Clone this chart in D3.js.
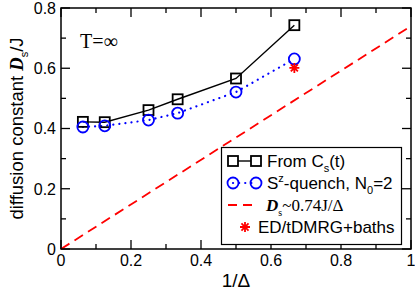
<!DOCTYPE html>
<html>
<head>
<meta charset="utf-8">
<script src="https://cdn.jsdelivr.net/npm/d3@7"></script>
<style>
  body { margin: 0; background: #fff; }
  text { font-family: "Liberation Sans", Arial, sans-serif; }
  .serif { font-family: "Liberation Serif", "Times New Roman", serif; }
</style>
</head>
<body>
<div id="chart"></div>
<script>
const width = 415;
const height = 292;

const margin = { top: 8, left: 61, bottom: 43, right: 4 };

// data
const invDelta = [0.0625, 0.125, 0.25, 0.3333, 0.5, 0.6667];
const fromCs = [0.422, 0.421, 0.461, 0.497, 0.566, 0.743];
const szQuench = [0.405, 0.409, 0.428, 0.451, 0.521, 0.631];
const edPoint = [{ x: 0.6667, y: 0.601 }];
const slope = 0.74;
const xTicks = [0, 0.2, 0.4, 0.6, 0.8, 1];
const yTicks = [0, 0.2, 0.4, 0.6, 0.8];

const xScale = d3.scaleLinear().domain([0, 1]).range([margin.left, width - margin.right]);
const yScale = d3.scaleLinear().domain([0, 0.8]).range([height - margin.bottom, margin.top]);

const svg = d3.select("#chart").append("svg").attr("width", width).attr("height", height);

const x0 = xScale(0), x1 = xScale(1), y0 = yScale(0), y1 = yScale(0.8);

// ticks inward on all four sides
const majorLen = 9, minorLen = 5;
const xMinor = d3.range(0.1, 1, 0.2);
const yMinor = d3.range(0.1, 0.8, 0.2);
const tickG = svg.append("g").attr("stroke", "#000").attr("stroke-width", 1.3);
xTicks.concat(xMinor).forEach(t => {
    const len = xMinor.includes(t) ? minorLen : majorLen;
    tickG.append("line").attr("x1", xScale(t)).attr("x2", xScale(t)).attr("y1", y0).attr("y2", y0 - len);
    tickG.append("line").attr("x1", xScale(t)).attr("x2", xScale(t)).attr("y1", y1).attr("y2", y1 + len);
});
yTicks.concat(yMinor).forEach(t => {
    const len = yMinor.includes(t) ? minorLen : majorLen;
    tickG.append("line").attr("y1", yScale(t)).attr("y2", yScale(t)).attr("x1", x0).attr("x2", x0 + len);
    tickG.append("line").attr("y1", yScale(t)).attr("y2", yScale(t)).attr("x1", x1).attr("x2", x1 - len);
});

svg.selectAll("text.xTick")
    .data(xTicks)
    .join("text")
    .attr("class", "xTick")
    .attr("x", d => xScale(d))
    .attr("y", y0 + 17)
    .attr("text-anchor", "middle")
    .style("font-size", "16px")
    .text(d => d === 0 || d === 1 ? d : d.toFixed(1));

svg.selectAll("text.yTick")
    .data(yTicks)
    .join("text")
    .attr("class", "yTick")
    .attr("x", x0 - 5)
    .attr("y", d => yScale(d))
    .attr("dy", "0.36em")
    .attr("text-anchor", "end")
    .style("font-size", "16px")
    .text(d => d === 0 ? "0" : d.toFixed(1));

// red dashed line D ~ 0.74 J/Delta
svg.append("line")
    .attr("x1", xScale(0)).attr("y1", yScale(0))
    .attr("x2", xScale(1)).attr("y2", yScale(slope))
    .attr("stroke", "#ff0000")
    .attr("stroke-width", 1.8)
    .attr("stroke-dasharray", "10,6");

const line = d3.line().x(d => xScale(d[0])).y(d => yScale(d[1]));

const sqData = invDelta.map((d, i) => [d, fromCs[i]]);
const ciData = invDelta.map((d, i) => [d, szQuench[i]]);

svg.append("path")
    .attr("d", line(ciData))
    .attr("fill", "none")
    .attr("stroke", "#0000ff")
    .attr("stroke-width", 2.2)
    .attr("stroke-linecap", "round")
    .attr("stroke-dasharray", "0.1,6");

svg.append("path")
    .attr("d", line(sqData))
    .attr("fill", "none")
    .attr("stroke", "#000")
    .attr("stroke-width", 1.4);

const sq = 10;
svg.selectAll("rect.sq")
    .data(sqData)
    .join("rect")
    .attr("class", "sq")
    .attr("x", d => xScale(d[0]) - sq / 2)
    .attr("y", d => yScale(d[1]) - sq / 2)
    .attr("width", sq).attr("height", sq)
    .attr("fill", "none")
    .attr("stroke", "#000")
    .attr("stroke-width", 1.8);

svg.selectAll("circle.ci")
    .data(ciData)
    .join("circle")
    .attr("class", "ci")
    .attr("cx", d => xScale(d[0]))
    .attr("cy", d => yScale(d[1]))
    .attr("r", 5.5)
    .attr("fill", "none")
    .attr("stroke", "#0000ff")
    .attr("stroke-width", 1.8);

function starPath(cx, cy, r) {
    let p = "";
    for (let k = 0; k < 4; k++) {
        const a = k * Math.PI / 4;
        p += `M${cx - r * Math.cos(a)},${cy - r * Math.sin(a)}L${cx + r * Math.cos(a)},${cy + r * Math.sin(a)}`;
    }
    return p;
}

svg.selectAll("path.star")
    .data(edPoint)
    .join("path")
    .attr("class", "star")
    .attr("d", d => starPath(xScale(d.x), yScale(d.y), 5))
    .attr("stroke", "#ff0000")
    .attr("stroke-width", 1.8);

// frame
svg.append("rect")
    .attr("x", x0).attr("y", y1)
    .attr("width", x1 - x0).attr("height", y0 - y1)
    .attr("fill", "none")
    .attr("stroke", "#000")
    .attr("stroke-width", 1.5);

// T = infinity
svg.append("text")
    .attr("class", "serif")
    .attr("x", 80).attr("y", 48)
    .style("font-size", "20px")
    .text("T=∞");

// legend
const lg = svg.append("g");
lg.append("rect")
    .attr("x", 221.5).attr("y", 147.5)
    .attr("width", 180).attr("height", 97)
    .attr("fill", "#fff")
    .attr("stroke", "#000")
    .attr("stroke-width", 1.2);

const rowY = [161, 183, 205, 227];
const sx1 = 233, sx2 = 256, tx = 267;
const lgFont = "17px";

lg.append("line").attr("x1", sx1).attr("x2", sx2).attr("y1", rowY[0]).attr("y2", rowY[0])
    .attr("stroke", "#000").attr("stroke-width", 1.4);
[sx1, sx2].forEach(x => lg.append("rect")
    .attr("x", x - sq / 2).attr("y", rowY[0] - sq / 2).attr("width", sq).attr("height", sq)
    .attr("fill", "#fff").attr("stroke", "#000").attr("stroke-width", 1.8));

lg.append("line").attr("x1", sx1).attr("x2", sx2).attr("y1", rowY[1]).attr("y2", rowY[1])
    .attr("stroke", "#0000ff").attr("stroke-width", 2.2)
    .attr("stroke-linecap", "round").attr("stroke-dasharray", "0.1,6");
[sx1, sx2].forEach(x => lg.append("circle")
    .attr("cx", x).attr("cy", rowY[1]).attr("r", 5.5)
    .attr("fill", "none").attr("stroke", "#0000ff").attr("stroke-width", 1.8));

lg.append("line").attr("x1", sx1 - 5).attr("x2", sx2 - 2).attr("y1", rowY[2]).attr("y2", rowY[2])
    .attr("stroke", "#ff0000").attr("stroke-width", 1.8).attr("stroke-dasharray", "9,6");

lg.append("path").attr("d", starPath(245, rowY[3], 5))
    .attr("stroke", "#ff0000").attr("stroke-width", 1.8);

const t1 = lg.append("text").attr("x", tx).attr("y", rowY[0] + 6).style("font-size", lgFont);
t1.append("tspan").text("From C");
t1.append("tspan").attr("dy", 5).style("font-size", "11px").text("s");
t1.append("tspan").attr("dy", -5).text("(t)");

const t2 = lg.append("text").attr("x", tx).attr("y", rowY[1] + 6).style("font-size", lgFont);
t2.append("tspan").text("S");
t2.append("tspan").attr("dy", -7).style("font-size", "11px").text("z");
t2.append("tspan").attr("dy", 7).text("-quench, N");
t2.append("tspan").attr("dy", 5).style("font-size", "11px").text("0");
t2.append("tspan").attr("dy", -5).text("=2");

const t3 = lg.append("text").attr("class", "serif").attr("x", tx - 1).attr("y", rowY[2] + 6).style("font-size", lgFont);
t3.append("tspan").style("font-weight", "bold").style("font-style", "italic").text("D");
t3.append("tspan").attr("dy", 5).style("font-size", "10px").text("s");
t3.append("tspan").attr("dy", -5).text("~0.74J/Δ");

lg.append("text").attr("x", 258).attr("y", rowY[3] + 6).style("font-size", lgFont).text("ED/tDMRG+baths");

// axis titles
svg.append("text")
    .attr("x", (x0 + x1) / 2).attr("y", 287)
    .attr("text-anchor", "middle")
    .style("font-size", "19px")
    .text("1/Δ");

const yt = svg.append("text")
    .attr("transform", `translate(23,${(y0 + y1) / 2}) rotate(-90)`)
    .attr("text-anchor", "middle")
    .style("font-size", "18.5px");
yt.append("tspan").text("diffusion constant ");
yt.append("tspan").attr("class", "serif").style("font-weight", "bold").style("font-style", "italic").text("D");
yt.append("tspan").attr("dy", 5).style("font-size", "11px").text("s");
yt.append("tspan").attr("dy", -5).text("/J");
</script>
</body>
</html>
